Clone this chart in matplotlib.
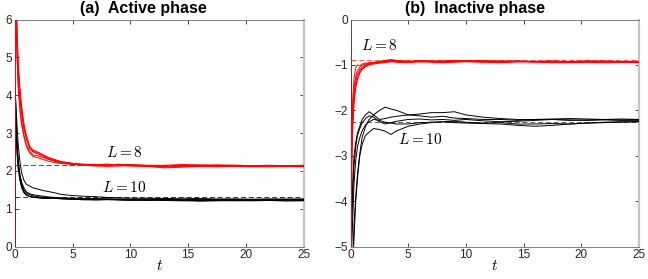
import matplotlib
matplotlib.use('Agg')
import matplotlib.pyplot as plt

plt.rcParams['font.family'] = ['Liberation Sans', 'DejaVu Sans']
plt.rcParams['mathtext.fontset'] = 'cm'

# shared sampling times for all trajectories
t = [0, 0.03, 0.1, 0.2, 0.3, 0.45, 0.6, 0.8, 1.0, 1.3, 1.6, 2.0, 2.5, 3.0, 3.5, 4.0,
     5, 6, 7, 8, 9, 10, 11.5, 13, 14.5, 16, 17.5, 19, 20.5, 22, 23.5, 25]

# (a) active phase, L = 8 (red)
act_r1 = [0, 9, 6.5, 5.4, 4.6, 3.9, 3.5, 3.1, 2.85, 2.6, 2.5, 2.45, 2.38, 2.3, 2.27, 2.22, 2.18, 2.17, 2.16, 2.15, 2.17, 2.16, 2.14, 2.12, 2.13, 2.14, 2.15, 2.14, 2.13, 2.14, 2.13, 2.14]
act_r2 = [0, 8.5, 6.2, 5.1, 4.3, 3.7, 3.3, 2.95, 2.7, 2.52, 2.42, 2.4, 2.35, 2.3, 2.25, 2.2, 2.17, 2.15, 2.14, 2.17, 2.15, 2.13, 2.12, 2.1, 2.12, 2.13, 2.12, 2.13, 2.12, 2.13, 2.12, 2.12]
act_r3 = [0, 10, 7, 5.8, 4.9, 4.2, 3.7, 3.25, 2.95, 2.65, 2.55, 2.5, 2.42, 2.35, 2.3, 2.25, 2.2, 2.18, 2.17, 2.18, 2.16, 2.17, 2.15, 2.15, 2.17, 2.16, 2.14, 2.15, 2.14, 2.15, 2.14, 2.15]
act_r4 = [0, 8, 6.0, 5.0, 4.2, 3.6, 3.2, 2.9, 2.65, 2.47, 2.38, 2.35, 2.3, 2.25, 2.22, 2.2, 2.18, 2.15, 2.13, 2.12, 2.13, 2.14, 2.12, 2.08, 2.1, 2.12, 2.11, 2.12, 2.11, 2.11, 2.12, 2.11]
act_r5 = [0, 9.5, 6.8, 5.6, 4.7, 4.1, 3.6, 3.15, 2.9, 2.6, 2.52, 2.48, 2.4, 2.33, 2.28, 2.24, 2.2, 2.16, 2.15, 2.16, 2.18, 2.15, 2.13, 2.13, 2.14, 2.15, 2.16, 2.15, 2.14, 2.13, 2.14, 2.13]

# (a) active phase, L = 10 (black)
act_k1 = [0, 4.3, 3.6, 2.8, 2.3, 1.9, 1.65, 1.5, 1.42, 1.37, 1.34, 1.32, 1.3, 1.29, 1.28, 1.28, 1.27, 1.26, 1.27, 1.26, 1.25, 1.25, 1.24, 1.25, 1.24, 1.23, 1.24, 1.24, 1.23, 1.24, 1.24, 1.24]
act_k2 = [0, 3.9, 3.3, 2.6, 2.15, 1.8, 1.6, 1.45, 1.38, 1.33, 1.31, 1.3, 1.28, 1.27, 1.28, 1.26, 1.25, 1.24, 1.23, 1.24, 1.23, 1.22, 1.23, 1.22, 1.21, 1.22, 1.22, 1.21, 1.22, 1.22, 1.21, 1.22]
act_k3 = [0, 4.1, 3.8, 3.2, 2.7, 2.25, 1.95, 1.75, 1.65, 1.6, 1.55, 1.52, 1.48, 1.45, 1.42, 1.38, 1.35, 1.33, 1.32, 1.3, 1.29, 1.28, 1.28, 1.27, 1.28, 1.27, 1.26, 1.26, 1.25, 1.26, 1.26, 1.26]
act_k4 = [0, 3.6, 3.0, 2.45, 2.05, 1.75, 1.55, 1.42, 1.36, 1.32, 1.3, 1.29, 1.27, 1.3, 1.28, 1.27, 1.25, 1.24, 1.25, 1.26, 1.24, 1.23, 1.22, 1.23, 1.22, 1.2, 1.21, 1.22, 1.21, 1.22, 1.21, 1.21]
act_k5 = [0, 4.0, 3.4, 2.7, 2.25, 1.9, 1.7, 1.55, 1.45, 1.4, 1.37, 1.35, 1.33, 1.31, 1.3, 1.29, 1.28, 1.27, 1.26, 1.25, 1.26, 1.25, 1.26, 1.25, 1.24, 1.25, 1.24, 1.25, 1.25, 1.25, 1.24, 1.25]

# (b) inactive phase, L = 8 (red)
ina_r1 = [0, -6, -2.4, -1.7, -1.3, -1.05, -1.0, -1.02, -0.98, -0.96, -0.95, -0.94, -0.92, -0.9, -0.91, -0.92, -0.93, -0.91, -0.92, -0.93, -0.92, -0.91, -0.92, -0.93, -0.92, -0.93, -0.92, -0.93, -0.92, -0.93, -0.93, -0.93]
ina_r2 = [0, -6, -2.8, -2.0, -1.6, -1.35, -1.2, -1.1, -1.05, -1.0, -0.98, -0.95, -0.93, -0.92, -0.9, -0.91, -0.92, -0.9, -0.91, -0.92, -0.9, -0.91, -0.9, -0.92, -0.91, -0.92, -0.91, -0.92, -0.91, -0.91, -0.92, -0.92]
ina_r3 = [0, -6, -3.0, -2.2, -1.75, -1.45, -1.28, -1.15, -1.08, -1.02, -0.98, -0.96, -0.94, -0.9, -0.88, -0.9, -0.92, -0.93, -0.92, -0.91, -0.9, -0.92, -0.93, -0.91, -0.92, -0.93, -0.94, -0.93, -0.92, -0.93, -0.93, -0.94]
ina_r4 = [0, -6, -2.6, -1.9, -1.5, -1.25, -1.12, -1.05, -1.01, -0.98, -0.97, -0.96, -0.95, -0.93, -0.92, -0.93, -0.94, -0.92, -0.93, -0.94, -0.93, -0.92, -0.93, -0.94, -0.93, -0.92, -0.93, -0.94, -0.94, -0.93, -0.94, -0.94]
ina_r5 = [0, -6, -3.2, -2.3, -1.85, -1.5, -1.32, -1.18, -1.1, -1.04, -1.0, -0.98, -0.96, -0.95, -0.93, -0.94, -0.95, -0.93, -0.94, -0.95, -0.94, -0.93, -0.94, -0.95, -0.93, -0.94, -0.95, -0.95, -0.94, -0.95, -0.94, -0.95]

# (b) inactive phase, L = 10 (black)
ina_k1 = [0, -5.6, -4.2, -3.5, -3.0, -2.7, -2.5, -2.35, -2.2, -2.1, -2.03, -2.1, -2.2, -2.18, -2.15, -2.13, -2.1, -2.12, -2.15, -2.13, -2.17, -2.18, -2.2, -2.2, -2.22, -2.2, -2.2, -2.22, -2.21, -2.2, -2.21, -2.2]
ina_k2 = [0, -5.8, -5.5, -5.3, -4.5, -3.9, -3.4, -2.95, -2.6, -2.35, -2.2, -2.1, -2.0, -1.93, -1.97, -2.0, -2.1, -2.08, -2.05, -2.05, -2.03, -2.1, -2.15, -2.18, -2.2, -2.2, -2.19, -2.18, -2.19, -2.2, -2.19, -2.2]
ina_k3 = [0, -5.5, -5.0, -4.3, -3.6, -3.1, -2.8, -2.6, -2.45, -2.32, -2.25, -2.2, -2.22, -2.26, -2.28, -2.3, -2.3, -2.27, -2.26, -2.25, -2.27, -2.28, -2.29, -2.3, -2.33, -2.35, -2.33, -2.3, -2.28, -2.27, -2.26, -2.25]
ina_k4 = [0, -6, -5.7, -5.4, -4.8, -4.0, -3.5, -3.0, -2.75, -2.55, -2.48, -2.4, -2.42, -2.46, -2.53, -2.45, -2.35, -2.3, -2.27, -2.25, -2.24, -2.26, -2.28, -2.27, -2.3, -2.3, -2.29, -2.3, -2.28, -2.26, -2.25, -2.25]
ina_k5 = [0, -5.4, -4.5, -3.8, -3.2, -2.8, -2.55, -2.4, -2.28, -2.18, -2.12, -2.15, -2.25, -2.3, -2.27, -2.24, -2.2, -2.19, -2.21, -2.2, -2.22, -2.2, -2.23, -2.25, -2.24, -2.22, -2.2, -2.21, -2.22, -2.21, -2.22, -2.22]

# asymptotic reference values (dashed)
act_ref = {'r': 2.15, 'k': 1.3}
ina_ref = {'r': -0.9, 'k': -2.25}

fig = plt.figure(figsize=(6.48, 2.79), dpi=100)
ax1 = fig.add_axes([0.0227, 0.116, 0.446, 0.814])
ax2 = fig.add_axes([0.541, 0.116, 0.445, 0.814])


def style_axes(ax, ylim, yticks):
    ax.set_xlim(0, 25)
    ax.set_ylim(*ylim)
    ax.set_xticks([0, 5, 10, 15, 20, 25])
    ax.set_yticks(yticks)
    ax.tick_params(direction='in', top=True, right=True, length=3, width=0.6,
                   labelsize=8.5, pad=2, colors='#262626')
    for side in ['left', 'bottom', 'top']:
        ax.spines[side].set_color('#808080')
        ax.spines[side].set_linewidth(0.7)
    ax.spines['right'].set_color('#c4c4c4')
    ax.spines['right'].set_linewidth(1.6)
    ax.set_xlabel('$t$', fontsize=11, labelpad=-2)


# panel (a)
for y in [act_k1, act_k2, act_k3, act_k4, act_k5]:
    ax1.plot(t, y, color='k', lw=0.7, zorder=3)
for y in [act_r1, act_r2, act_r3, act_r4, act_r5]:
    ax1.plot(t, y, color='#ff0000', lw=0.7, zorder=4)
ax1.axhline(act_ref['r'], color='#ff0000', ls=(0, (5, 3)), lw=0.7, zorder=2)
ax1.axhline(act_ref['k'], color='#333333', ls=(0, (5, 3)), lw=0.7, zorder=2)
style_axes(ax1, (0, 6), [0, 1, 2, 3, 4, 5, 6])
ax1.text(9.5, 2.5, '$L = 8$', fontsize=11, ha='center', va='center')
ax1.text(9.5, 1.55, '$L = 10$', fontsize=11, ha='center', va='center')
ax1.text(0.445, 1.015, '(a)  Active phase', transform=ax1.transAxes,
         fontsize=11.5, fontweight='bold', ha='center', va='bottom')

# panel (b)
for y in [ina_k1, ina_k2, ina_k3, ina_k4, ina_k5]:
    ax2.plot(t, y, color='k', lw=0.7, zorder=3)
for y in [ina_r1, ina_r2, ina_r3, ina_r4, ina_r5]:
    ax2.plot(t, y, color='#ff0000', lw=0.7, zorder=4)
ax2.axhline(ina_ref['r'], color='#ff6060', ls=(0, (5, 3)), lw=0.7, zorder=2)
ax2.axhline(ina_ref['k'], color='#666666', ls=(0, (5, 3)), lw=0.7, zorder=2)
style_axes(ax2, (-5, 0), [-5, -4, -3, -2, -1, 0])
ax2.text(2.5, -0.58, '$L = 8$', fontsize=11, ha='center', va='center')
ax2.text(6.0, -2.64, '$L = 10$', fontsize=11, ha='center', va='center')
ax2.text(0.43, 1.015, '(b)  Inactive phase', transform=ax2.transAxes,
         fontsize=11.5, fontweight='bold', ha='center', va='bottom')

plt.savefig('out.png', dpi=100)
